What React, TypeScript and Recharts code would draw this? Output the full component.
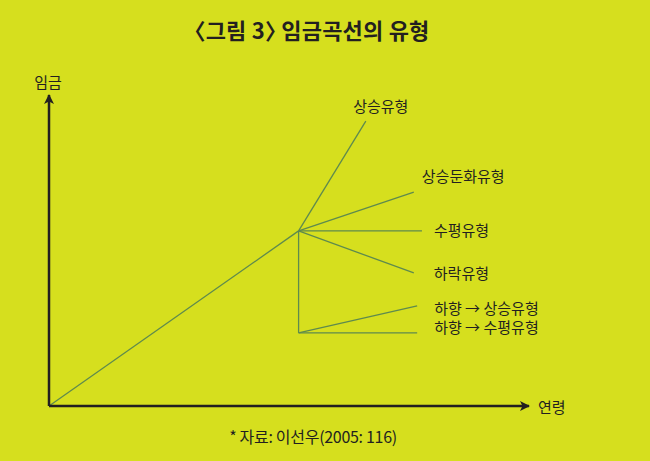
import { LineChart, Line, XAxis, YAxis, LabelList } from "recharts";

// wage curve types (pseudo units: x = age, y = wage)
const trunk = [
  { x: 0, y: 0 },
  { x: 52, y: 56.3 },
];
const drop = [
  { x: 52, y: 56.3 },
  { x: 52, y: 23.5 },
];
const branchNames = ["상승유형", "상승둔화유형", "수평유형", "하락유형", "하향 → 상승유형", "하향 → 수평유형"];
const branchStarts = [
  [52, 56.3],
  [52, 56.3],
  [52, 56.3],
  [52, 56.3],
  [52, 23.5],
  [52, 23.5],
];
const branchEnds = [
  [66, 91.6],
  [76, 68.8],
  [77.7, 56.3],
  [76, 42.8],
  [76.7, 32.2],
  [76.7, 23.5],
];

// label offsets from the end of each branch (px)
const labelStyle = [
  { dx: 15, dy: -16, anchor: "middle" },
  { dx: 8, dy: -17, anchor: "start" },
  { dx: 12, dy: -1, anchor: "start" },
  { dx: 20, dy: 0, anchor: "start" },
  { dx: 17, dy: 2, anchor: "start" },
  { dx: 17, dy: -6, anchor: "start" },
];

const BG = "#d6df1e";
const INK = "#231f20";
const LINE = "#5e8a4e";
const FONT = "'Noto Sans CJK KR', 'Noto Sans', sans-serif";

const branches = branchNames.map((name, i) => [
  { x: branchStarts[i][0], y: branchStarts[i][1] },
  { x: branchEnds[i][0], y: branchEnds[i][1], name },
]);

const endLabel = (i: number) => (props: any) => {
  const { value } = props;
  if (value == null) return null;
  const x = props.x ?? props.viewBox?.x;
  const y = props.y ?? props.viewBox?.y;
  const s = labelStyle[i];
  return (
    <text x={x + s.dx} y={y + s.dy} textAnchor={s.anchor} dominantBaseline="central" fontSize={15} fill={INK} fontFamily={FONT}>
      {value}
    </text>
  );
};

// axis titles: 연령 to the right of the x arrow, 임금 above the y arrow
const xTitle = (props: any) => {
  const vb = props.viewBox;
  return (
    <text x={vb.x + vb.width + 9} y={vb.y} dominantBaseline="central" fontSize={15} fill={INK} fontFamily={FONT}>
      연령
    </text>
  );
};
const yTitle = (props: any) => {
  const vb = props.viewBox;
  return (
    <text x={vb.x + vb.width - 1} y={vb.y - 7} textAnchor="middle" fontSize={15} fill={INK} fontFamily={FONT}>
      임금
    </text>
  );
};

export default function App() {
  return (
    <div style={{ position: "absolute", left: 0, top: 0, width: 650, height: 461, background: BG, fontFamily: FONT, overflow: "hidden" }}>
      <svg width={0} height={0} style={{ position: "absolute" }}>
        <defs>
          <marker id="axisArrow" viewBox="0 0 10 10" refX={9} refY={5} markerWidth={10} markerHeight={10} markerUnits="userSpaceOnUse" orient="auto-start-reverse">
            <path d="M0,0 L10,5 L0,10 L2.5,5 Z" fill={INK} />
          </marker>
        </defs>
      </svg>
      <div style={{ position: "absolute", left: 0, width: 624, top: 13, textAlign: "center", fontSize: 22, fontWeight: 700, color: INK, letterSpacing: 0.2, fontFeatureSettings: '"halt"' }}>
        〈그림 3〉 임금곡선의 유형
      </div>
      <LineChart width={650} height={461} margin={{ top: 95, right: 121, bottom: 35, left: 29 }}>
        <XAxis
          type="number"
          dataKey="x"
          domain={[0, 100]}
          height={20}
          tick={false}
          tickLine={false}
          axisLine={{ stroke: INK, strokeWidth: 2.5, markerEnd: "url(#axisArrow)" }}
          label={{ content: xTitle }}
        />
        <YAxis
          type="number"
          dataKey="y"
          domain={[0, 100]}
          width={20}
          tick={false}
          tickLine={false}
          axisLine={{ stroke: INK, strokeWidth: 2.5, markerStart: "url(#axisArrow)" }}
          label={{ content: yTitle }}
        />
        <Line data={trunk} dataKey="y" stroke={LINE} strokeWidth={1.3} dot={false} activeDot={false} isAnimationActive={false} />
        <Line data={drop} dataKey="y" stroke={LINE} strokeWidth={1.3} dot={false} activeDot={false} isAnimationActive={false} />
        {branches.map((b, i) => (
          <Line key={branchNames[i]} data={b} dataKey="y" stroke={LINE} strokeWidth={1.3} dot={false} activeDot={false} isAnimationActive={false}>
            <LabelList dataKey="name" content={endLabel(i)} />
          </Line>
        ))}
      </LineChart>
      <div style={{ position: "absolute", left: 0, width: 626, top: 424, textAlign: "center", fontSize: 16, color: INK, letterSpacing: -0.3 }}>
        * 자료: 이선우(2005: 116)
      </div>
    </div>
  );
}
